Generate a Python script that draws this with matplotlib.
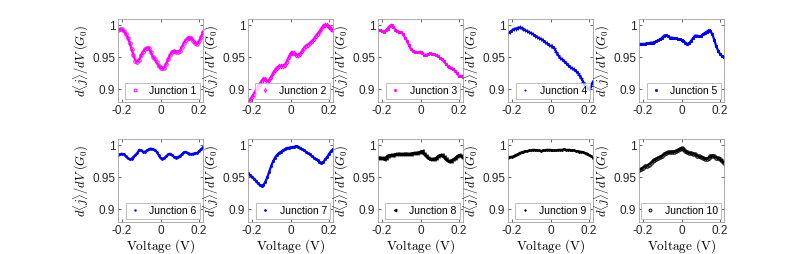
import numpy as np
import matplotlib
matplotlib.use("Agg")
import matplotlib.pyplot as plt

plt.rcParams['font.family'] = ['Liberation Sans', 'DejaVu Sans']
plt.rcParams['mathtext.fontset'] = 'cm'

voltage = np.round(np.arange(-0.22, 0.2201, 0.01), 2)

j1 = [0.993, 0.994, 0.994, 0.991, 0.987, 0.981, 0.973, 0.963, 0.953, 0.945, 0.943, 0.946, 0.953,
      0.959, 0.963, 0.965, 0.964, 0.958, 0.951, 0.947, 0.942, 0.937, 0.934, 0.933, 0.934, 0.940,
      0.947, 0.954, 0.959, 0.960, 0.959, 0.959, 0.960, 0.966, 0.972, 0.977, 0.980, 0.981, 0.980,
      0.976, 0.972, 0.971, 0.975, 0.982, 0.990]
j2 = [0.878, 0.883, 0.888, 0.893, 0.898, 0.903, 0.908, 0.913, 0.916, 0.916, 0.912, 0.914, 0.919,
      0.925, 0.930, 0.934, 0.936, 0.936, 0.937, 0.938, 0.943, 0.950, 0.956, 0.957, 0.956, 0.954,
      0.953, 0.955, 0.960, 0.965, 0.968, 0.970, 0.972, 0.975, 0.978, 0.983, 0.987, 0.990, 0.995,
      0.999, 1.001, 1.000, 0.997, 0.994, 0.993]
j3 = [0.993, 0.992, 0.991, 0.990, 0.992, 0.995, 0.999, 1.001, 0.998, 0.993, 0.991, 0.990, 0.989,
      0.986, 0.981, 0.976, 0.969, 0.963, 0.960, 0.959, 0.958, 0.958, 0.959, 0.957, 0.954, 0.954,
      0.955, 0.956, 0.955, 0.955, 0.954, 0.952, 0.949, 0.947, 0.944, 0.940, 0.937, 0.935, 0.933,
      0.931, 0.929, 0.925, 0.920, 0.920, 0.921]
j4 = [0.988, 0.990, 0.992, 0.994, 0.995, 0.996, 0.997, 0.996, 0.994, 0.992, 0.991, 0.989, 0.988,
      0.986, 0.984, 0.982, 0.980, 0.979, 0.977, 0.974, 0.972, 0.970, 0.968, 0.967, 0.964, 0.958,
      0.953, 0.949, 0.947, 0.944, 0.941, 0.938, 0.935, 0.933, 0.931, 0.929, 0.926, 0.922, 0.917,
      0.911, 0.906, 0.902, 0.900, 0.905, 0.912]
j5 = [0.971, 0.971, 0.971, 0.971, 0.972, 0.972, 0.973, 0.973, 0.974, 0.975, 0.977, 0.978, 0.981,
      0.984, 0.985, 0.983, 0.981, 0.981, 0.980, 0.980, 0.979, 0.978, 0.977, 0.976, 0.973, 0.971,
      0.972, 0.976, 0.980, 0.984, 0.984, 0.983, 0.983, 0.986, 0.988, 0.990, 0.992, 0.991, 0.986,
      0.977, 0.967, 0.960, 0.955, 0.952, 0.951]
j6 = [0.985, 0.986, 0.987, 0.986, 0.983, 0.980, 0.978, 0.979, 0.982, 0.985, 0.988, 0.993, 0.992,
      0.990, 0.990, 0.992, 0.994, 0.995, 0.994, 0.992, 0.990, 0.985, 0.980, 0.979, 0.980, 0.983,
      0.986, 0.987, 0.985, 0.982, 0.981, 0.982, 0.983, 0.986, 0.989, 0.990, 0.988, 0.987, 0.986,
      0.987, 0.988, 0.988, 0.991, 0.994, 0.997]
j7 = [0.956, 0.954, 0.951, 0.948, 0.945, 0.941, 0.938, 0.937, 0.938, 0.943, 0.950, 0.959, 0.968,
      0.975, 0.981, 0.985, 0.988, 0.990, 0.992, 0.994, 0.996, 0.996, 0.997, 0.997, 0.998, 0.999,
      0.998, 0.996, 0.994, 0.992, 0.990, 0.988, 0.986, 0.983, 0.981, 0.979, 0.977, 0.974, 0.973,
      0.974, 0.978, 0.982, 0.987, 0.991, 0.994]
j8 = [0.980, 0.981, 0.980, 0.979, 0.981, 0.984, 0.985, 0.985, 0.985, 0.986, 0.986, 0.987, 0.986,
      0.986, 0.987, 0.987, 0.986, 0.987, 0.988, 0.988, 0.988, 0.989, 0.990, 0.991, 0.987, 0.983,
      0.980, 0.978, 0.978, 0.979, 0.980, 0.983, 0.985, 0.985, 0.982, 0.978, 0.976, 0.975, 0.976,
      0.978, 0.980, 0.983, 0.985, 0.983, 0.981]
j9 = [0.981, 0.982, 0.982, 0.983, 0.985, 0.986, 0.988, 0.989, 0.990, 0.991, 0.991, 0.992, 0.992,
      0.993, 0.993, 0.992, 0.992, 0.991, 0.992, 0.992, 0.993, 0.993, 0.993, 0.992, 0.992, 0.992,
      0.993, 0.993, 0.993, 0.994, 0.993, 0.993, 0.993, 0.992, 0.992, 0.991, 0.991, 0.990, 0.990,
      0.989, 0.988, 0.987, 0.985, 0.983, 0.981]
j10 = [0.961, 0.963, 0.965, 0.967, 0.968, 0.970, 0.972, 0.975, 0.977, 0.979, 0.981, 0.982, 0.984,
       0.986, 0.988, 0.989, 0.989, 0.990, 0.990, 0.991, 0.992, 0.994, 0.996, 0.994, 0.991, 0.989,
       0.988, 0.988, 0.987, 0.986, 0.984, 0.983, 0.982, 0.981, 0.979, 0.979, 0.981, 0.983, 0.984,
       0.983, 0.981, 0.980, 0.978, 0.975, 0.973]

series = [j1, j2, j3, j4, j5, j6, j7, j8, j9, j10]
labels = ['Junction %d' % (i + 1) for i in range(10)]
colors = ['#ff00ff'] * 3 + ['#0000ff'] * 4 + ['black'] * 3
markers = ['o', 'd', 's', '+', 's', '.', '.', '<', '.', 'o']
hollow = [True, True, False, False, False, False, False, False, False, True]
msizes = [2.5, 2.5, 1.5, 2.5, 1.5, 2.5, 3.0, 2.5, 2.5, 2.5]

fig = plt.figure(figsize=(8, 2.54), dpi=100)
lefts = [118, 248, 378, 508, 639]
tops = [19, 139]
w, h = 85, 83

for i in range(10):
    row, col = divmod(i, 5)
    ax = fig.add_axes([lefts[col] / 800, (254 - tops[row] - h) / 254, w / 800, h / 254])
    c = colors[i]
    ax.plot(voltage, series[i], '-', color=c, lw=1.6)
    ax.plot(voltage, series[i], linestyle='none', marker=markers[i], ms=msizes[i], color=c,
            mfc='none' if hollow[i] else c, mew=0.7, label=labels[i])
    ax.set_xlim(-0.22, 0.22)
    ax.set_ylim(0.88, 1.01)
    ax.set_xticks([-0.2, 0, 0.2])
    ax.set_xticklabels(['-0.2', '0', '0.2'])
    ax.set_yticks([0.9, 0.95, 1])
    ax.set_yticklabels(['0.9', '0.95', '1'])
    ax.tick_params(direction='in', length=2, width=0.5, labelsize=8.5, colors='#262626',
                   top=True, right=True, pad=2)
    for s in ax.spines.values():
        s.set_color('#a0a0a0')
        s.set_linewidth(0.6)
    ax.set_ylabel(r'$d\langle j\rangle/dV\ (G_0)$', fontsize=9, labelpad=1)
    if row == 1:
        ax.set_xlabel(r'$\mathrm{Voltage\ (V)}$', fontsize=9.5, labelpad=0)
    leg = ax.legend(loc='lower right', fontsize=7.5, fancybox=False, handlelength=1.2,
                    handletextpad=0.8, borderpad=0.3, borderaxespad=0.3, markerscale=0.8)
    leg.get_frame().set_edgecolor('#a0a0a0')
    leg.get_frame().set_linewidth(0.6)

fig.savefig('out.png', dpi=100)
